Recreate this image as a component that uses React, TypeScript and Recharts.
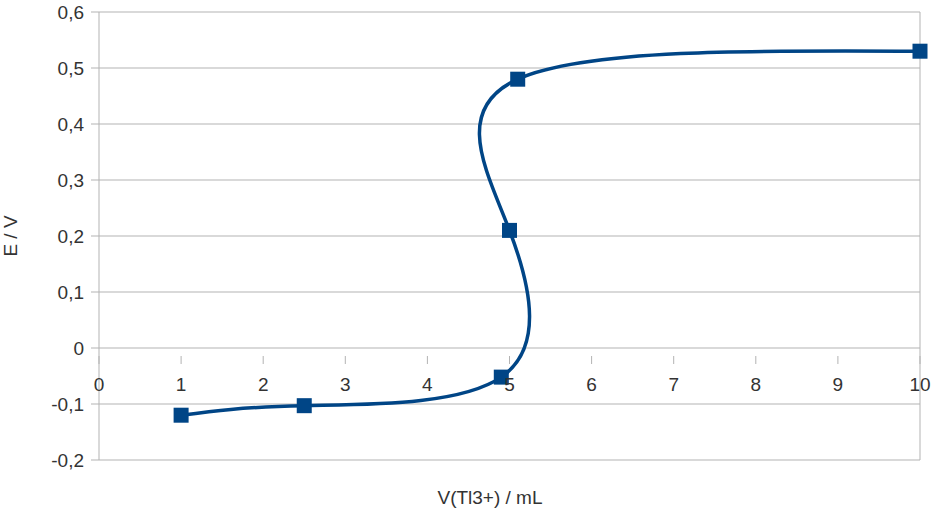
import { LineChart, Line, XAxis, YAxis, CartesianGrid, ReferenceLine } from "recharts";

// titration volumes (mL) and measured potentials (V)
const volumes = [1, 2.5, 4.9, 5, 5.1, 10];
const potentials = [-0.12, -0.103, -0.052, 0.21, 0.48, 0.53];
const xTicks = [0, 1, 2, 3, 4, 5, 6, 7, 8, 9, 10];
const yTicks = [-0.2, -0.1, 0, 0.1, 0.2, 0.3, 0.4, 0.5, 0.6];

const data = volumes.map((v, i) => ({ v, e: potentials[i] }));

const W = 940;
const H = 512;
const GRID = "#b3b3b3";
const BLUE = "#004586";
const TEXT = "#333333";
const FONT = "'Liberation Sans', Arial, sans-serif";
const FS = 19;

const Y_MIN = -0.2;
const Y_MAX = 0.6;
const TOP = 12;
const BOTTOM = 52;
// the x axis crosses at E = 0, so lift its ticks from the bottom edge
const plotH = H - TOP - BOTTOM;
const lift = plotH * (0 - Y_MIN) / (Y_MAX - Y_MIN);

function fmt(n: number) {
  if (Math.abs(n) < 1e-9) return "0";
  return n.toFixed(1).replace(".", ",");
}

function XTick({ x, y, payload }: any) {
  const y0 = y - lift;
  return (
    <g>
      <line x1={x} x2={x} y1={y0} y2={y0 + 8} stroke={GRID} strokeWidth={1} />
      <text x={x} y={y0 + 35} textAnchor="middle" fill={TEXT} fontSize={FS} fontFamily={FONT}>
        {payload.value}
      </text>
    </g>
  );
}

function SquareDot({ cx, cy, index }: any) {
  if (cx == null || cy == null) return null;
  return <rect key={index} x={cx - 7.5} y={cy - 7.5} width={15} height={15} fill={BLUE} />;
}

function YTitle() {
  return (
    <text x={17} y={236} transform="rotate(-90 17 236)" textAnchor="middle" fill={TEXT} fontSize={FS} fontFamily={FONT}>
      E / V
    </text>
  );
}

function XTitle() {
  return (
    <text x={490} y={504} textAnchor="middle" fill={TEXT} fontSize={FS} fontFamily={FONT}>
      V(Tl3+) / mL
    </text>
  );
}

export default function App() {
  return (
    <div style={{ position: "absolute", left: 0, top: 0, width: W, height: H, background: "#fff" }}>
      <LineChart width={W} height={H} data={data} margin={{ top: TOP, right: 20, left: 0, bottom: 0 }}>
        <CartesianGrid stroke={GRID} vertical={false} />
        <XAxis
          dataKey="v"
          type="number"
          domain={[0, 10]}
          ticks={xTicks}
          interval={0}
          height={BOTTOM}
          axisLine={false}
          tickLine={false}
          tick={<XTick />}
          label={<XTitle />}
        />
        <YAxis
          type="number"
          domain={[Y_MIN, Y_MAX]}
          ticks={yTicks}
          interval={0}
          width={99}
          stroke={GRID}
          tickSize={8}
          tickMargin={7}
          tickFormatter={fmt}
          tick={{ fill: TEXT, fontSize: FS, fontFamily: FONT }}
          label={<YTitle />}
        />
        <ReferenceLine x={10} stroke={GRID} />
        <Line
          dataKey="e"
          type="natural"
          stroke={BLUE}
          strokeWidth={3.5}
          dot={<SquareDot />}
          activeDot={false}
          isAnimationActive={false}
        />
      </LineChart>
    </div>
  );
}
